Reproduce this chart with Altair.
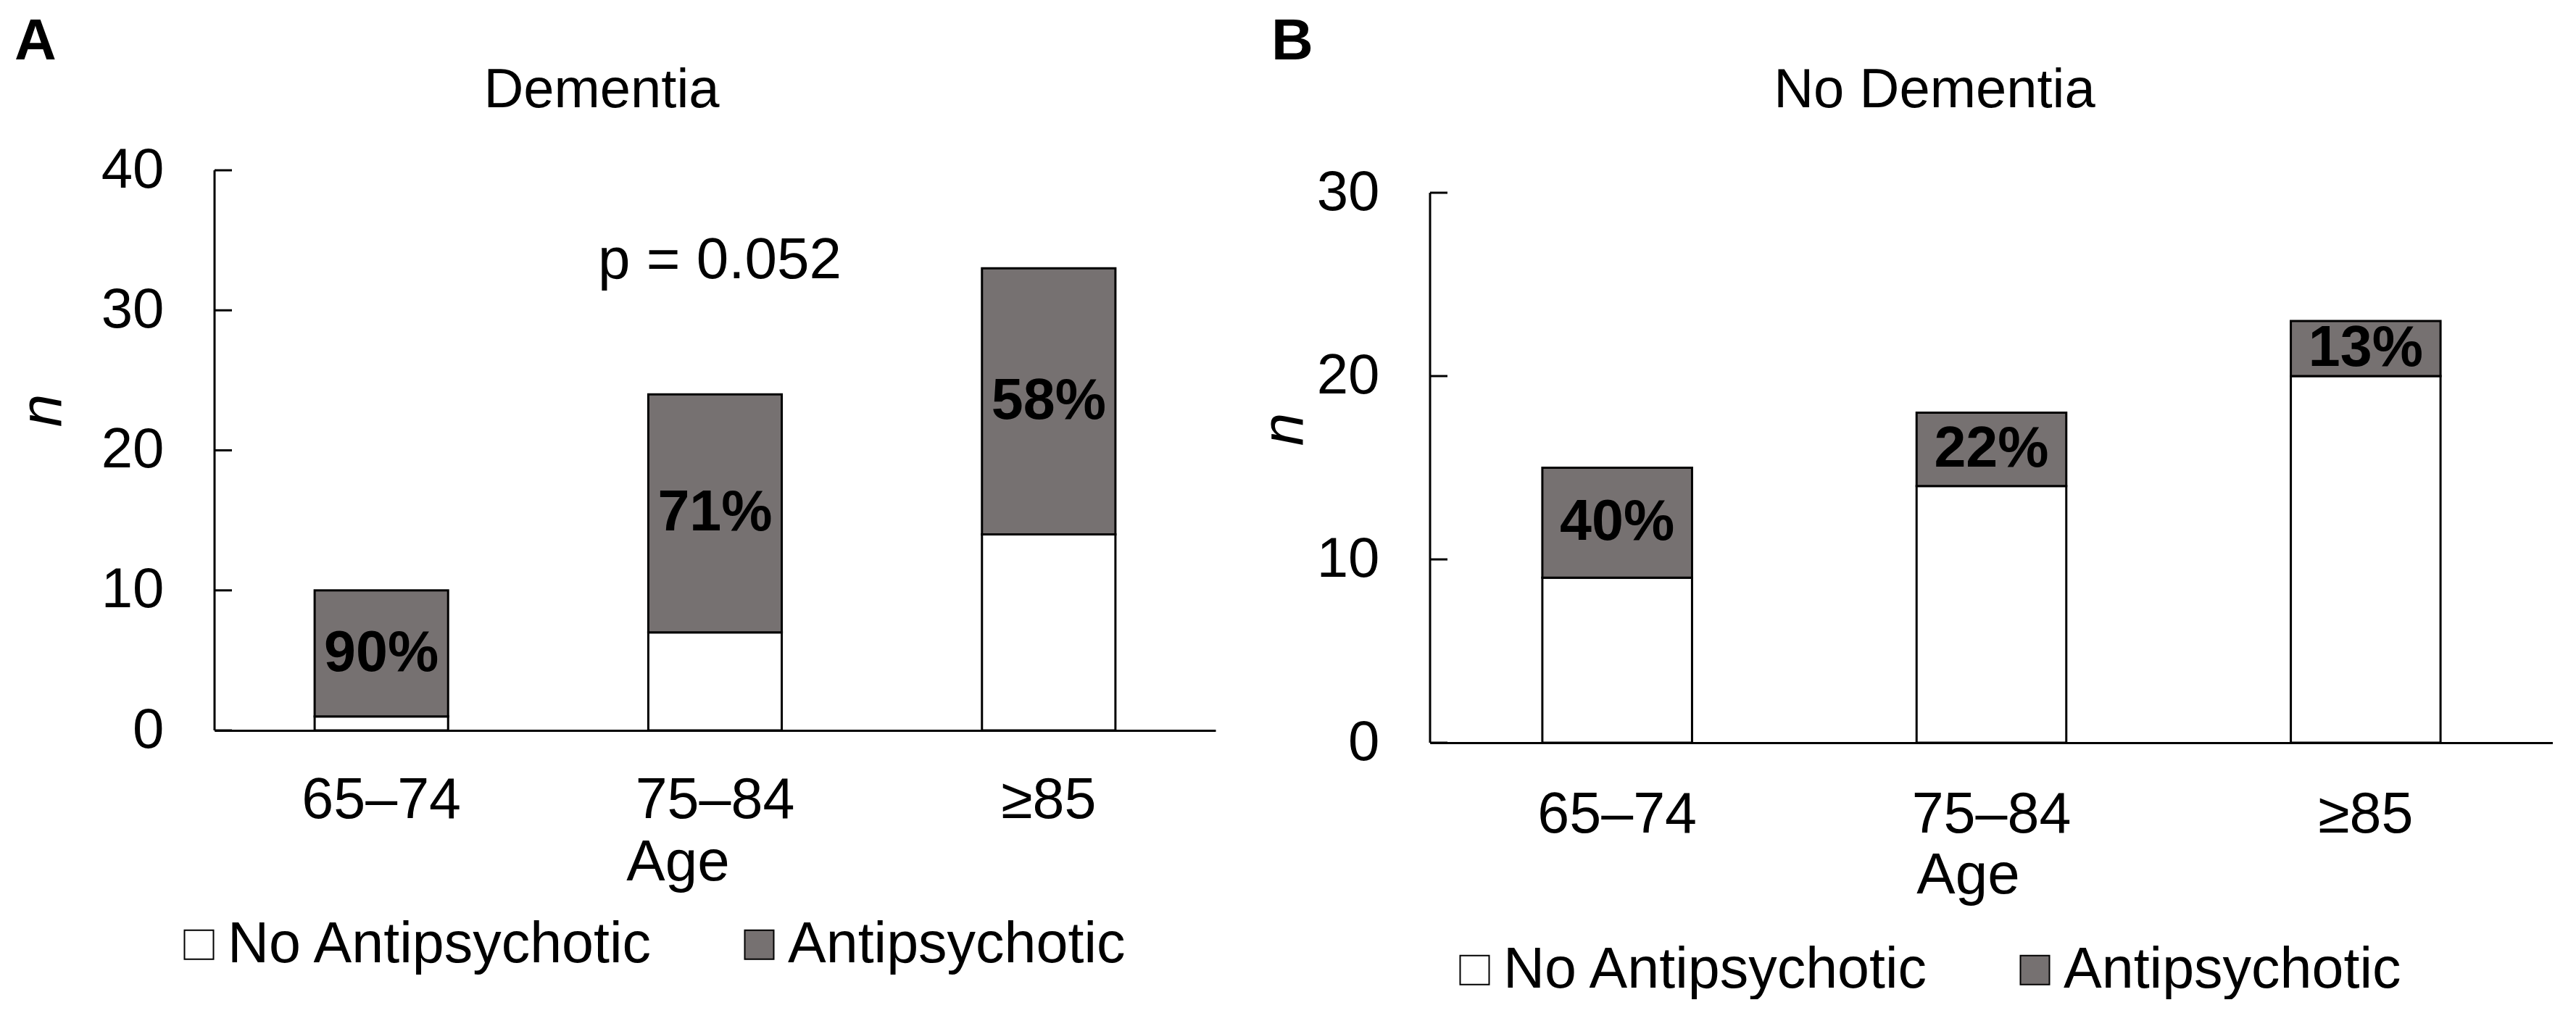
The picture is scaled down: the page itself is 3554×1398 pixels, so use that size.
import altair as alt
import pandas as pd

# ---------------- data ----------------
ages = ["65–74", "75–84", "≥85"]
groups = ["No Antipsychotic", "Antipsychotic"]
dem_none = [1, 7, 14]
dem_anti = [9, 17, 19]
nodem_none = [9, 14, 20]
nodem_anti = [6, 4, 3]
dem_ticks = [0, 10, 20, 30, 40]
nodem_ticks = [0, 10, 20, 30]
p_text = "p = 0.052"

GRAY = "#767171"
FONT = "Liberation Sans, Arial, sans-serif"
LW = 3


def bars_df(none, anti):
    rows = []
    for a, n0, n1 in zip(ages, none, anti):
        rows.append(dict(age=a, group=groups[0], lo=0, hi=n0))
        rows.append(dict(age=a, group=groups[1], lo=n0, hi=n0 + n1))
    return pd.DataFrame(rows)


def labels_df(none, anti):
    return pd.DataFrame(dict(
        age=ages,
        lo=[n0 + n1 / 2 for n0, n1 in zip(none, anti)],
        pct=[f"{round(100 * n1 / (n0 + n1))}%" for n0, n1 in zip(none, anti)],
    ))


def text_layer(txt, x, y, size, weight="normal", align="left", style="normal"):
    return alt.Chart(alt.Data(values=[{}])).mark_text(
        text=txt, font=FONT, fontSize=size, fontWeight=weight, fontStyle=style,
        align=align, baseline="alphabetic", color="black"
    ).encode(x=alt.value(x), y=alt.value(y))


def panel(none, anti, ticks, width, height, ymax, title, title_x, letter, letter_x,
          leg_x, leg_y, ytitle_x, ytitle_y, xtitle_x, xtitle_y, xlab_pad, extra=None):
    xenc = alt.X(
        "age:N", sort=ages,
        scale=alt.Scale(domain=ages, paddingInner=0.6, paddingOuter=0.3),
        axis=alt.Axis(
            title="Age", labelAngle=0, ticks=False, tickSize=0, labelPadding=xlab_pad,
            labelFontSize=79, labelLimit=2000, titleFontSize=80,
            titleX=xtitle_x, titleY=xtitle_y,
            titleBaseline="middle", titleAlign="center",
        ),
    )

    def yenc(field):
        return alt.Y(
            f"{field}:Q",
            scale=alt.Scale(domain=[0, ymax], nice=False, zero=True),
            axis=alt.Axis(
                values=ticks, domain=False, ticks=False, tickSize=0, grid=False,
                labelPadding=70, labelFontSize=78, title="n", titleFontStyle="italic",
                titleFontSize=82, titleX=ytitle_x, titleY=ytitle_y,
                titleBaseline="middle", titleAlign="center",
            ),
        )

    bars = alt.Chart(bars_df(none, anti)).mark_bar(
        stroke="black", strokeWidth=LW, opacity=1
    ).encode(
        x=xenc,
        y=yenc("lo"),
        y2="hi:Q",
        color=alt.Color(
            "group:N",
            scale=alt.Scale(domain=groups, range=["white", GRAY]),
            legend=alt.Legend(
                title=None, orient="none", legendX=leg_x, legendY=leg_y,
                direction="horizontal", columns=2, symbolType="square",
                symbolSize=1600, symbolStrokeColor="black", symbolStrokeWidth=2,
                symbolOpacity=1, labelFont=FONT, labelFontSize=79, labelColor="black",
                labelOffset=0, columnPadding=105, padding=0, labelLimit=2000,
            ),
        ),
    )

    pct = alt.Chart(labels_df(none, anti)).mark_text(
        font=FONT, fontSize=79, fontWeight="bold", color="black", baseline="middle"
    ).encode(x=xenc, y=yenc("lo"), text="pct:N")

    tick_rules = alt.Chart(pd.DataFrame(dict(lo=ticks))).mark_rule(
        color="black", strokeWidth=LW
    ).encode(y=yenc("lo"), x=alt.value(0), x2=alt.value(24))

    yline = alt.Chart(pd.DataFrame(dict(lo=[0], hi=[max(ticks)]))).mark_rule(
        color="black", strokeWidth=LW
    ).encode(y=yenc("lo"), y2="hi:Q", x=alt.value(0))

    layers = [bars, tick_rules, yline, pct,
              text_layer(title, title_x, -87, 76, align="center"),
              text_layer(letter, letter_x, -153, 80, weight="bold")]
    if extra is not None:
        layers.append(extra)
    return alt.layer(*layers).properties(width=width, height=height)


chart_a = panel(
    dem_none, dem_anti, dem_ticks, 1381, 773, 40,
    "Dementia", 534, "A", -276,
    leg_x=-61, leg_y=1029, ytitle_x=-238, ytitle_y=331,
    xtitle_x=639, xtitle_y=182, xlab_pad=58,
    extra=text_layer(p_text, 697, 149, 80, align="center"),
)

chart_b = panel(
    nodem_none, nodem_anti, nodem_ticks, 1549, 790, 30 * 790 / 759,
    "No Dementia", 696, "B", -219,
    leg_x=22, leg_y=1064, ytitle_x=-202, ytitle_y=357,
    xtitle_x=742, xtitle_y=183, xlab_pad=61,
)

chart = alt.hconcat(chart_a, chart_b, spacing=53).resolve_scale(
    x="independent", y="independent", color="independent"
).resolve_legend(color="independent").properties(
    padding={"left": 9, "top": 10, "right": 0, "bottom": 0},
    background="white",
).configure_view(stroke=None).configure_axis(
    labelFont=FONT, titleFont=FONT, labelColor="black", titleColor="black",
    domainColor="black", domainWidth=LW, titleFontWeight="normal",
)

chart.save("out.html", embed_options={"renderer": "svg", "actions": False})
